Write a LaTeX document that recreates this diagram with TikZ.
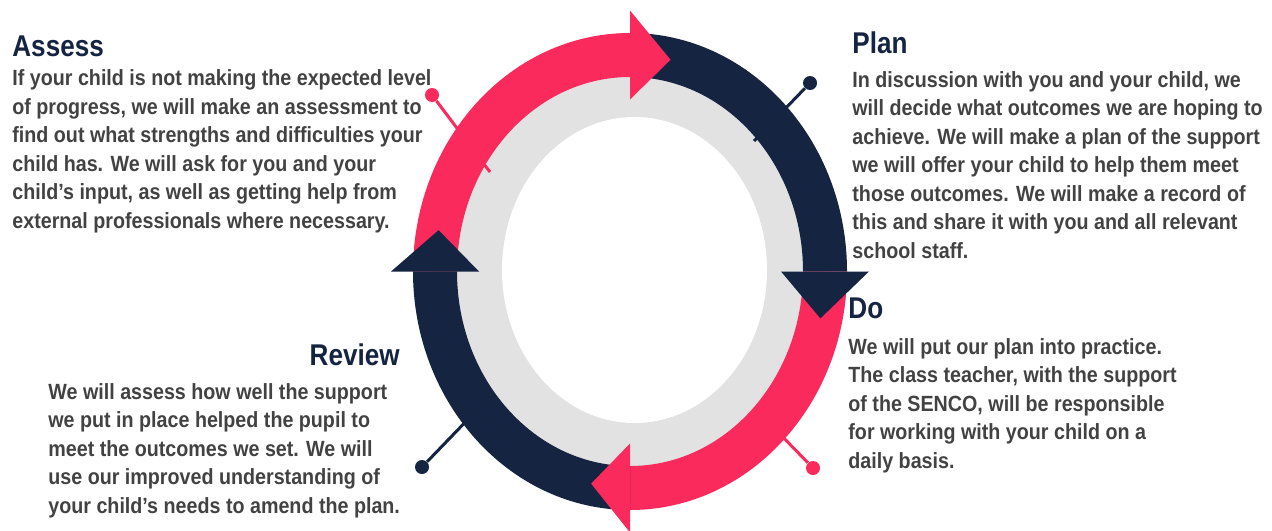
\documentclass[tikz,border=0pt]{standalone}
\usepackage{fontspec}
\setmainfont{Liberation Sans}
\newfontfamily\cyclefont[FakeStretch=0.87]{Liberation Sans}
\newfontfamily\blurbfont[FakeStretch=0.895]{Liberation Sans}

\definecolor{cyclepink}{RGB}{250,42,92}
\definecolor{cyclenavy}{RGB}{21,36,64}
\definecolor{ringgrey}{RGB}{226,226,226}
\definecolor{blurbgrey}{RGB}{66,66,66}

\tikzset{
  heading/.style={font={\cyclefont\bfseries\fontsize{15}{18}\selectfont}, text=cyclenavy, inner sep=0pt},
  blurb/.style={font={\blurbfont\bfseries\fontsize{11}{14.25}\selectfont}, text=blurbgrey, inner sep=0pt, align=left, anchor=base west},
  pinline/.style={line width=1.5pt},
  pindot/.style={circle, inner sep=0pt, minimum size=7pt},
}

\begin{document}
\begin{tikzpicture}[x=0.5pt, y=-0.5pt]
  \useasboundingbox (0,0) rectangle (1272,530);

  % pins behind the ring
  \node[pindot, fill=cyclepink] (assesspin) at (432,95) {};
  \node[pindot, fill=cyclenavy] (planpin) at (810,83) {};
  \node[pindot, fill=cyclepink] (dopin) at (813,468) {};
  \node[pindot, fill=cyclenavy] (reviewpin) at (422,467) {};
  \coordinate (assessend) at (490,172);
  \coordinate (planend) at (754,141);
  \coordinate (doend) at (776,430);
  \coordinate (reviewend) at (476,411);

  % grey ring and white middle
  \begin{scope}[shift={(630,271.5)}, yscale=-1]
    \fill[ringgrey] (0,0) ellipse[x radius=200, y radius=220];
    \fill[white] (4.5,1.5) ellipse[x radius=132.5, y radius=153];
  \end{scope}

  \draw[pinline, cyclepink] (assesspin) -- (assessend);
  \draw[pinline, cyclenavy] (planpin) -- (planend);
  \draw[pinline, cyclepink] (dopin) -- (doend);
  \draw[pinline, cyclenavy] (reviewpin) -- (reviewend);

  % the four arrows of the cycle
  \begin{scope}[shift={(630,271.5)}, yscale=-1]
    \foreach \col/\from/\to in {cyclepink/180/90, cyclenavy/90/0, cyclepink/0/-90, cyclenavy/270/180}
      \fill[\col] (\from:217 and 238.5) arc[start angle=\from, end angle=\to, x radius=217, y radius=238.5]
        -- (\to:173 and 194.5) arc[start angle=\to, end angle=\from, x radius=173, y radius=194.5] -- cycle;
    \foreach \col/\base/\tip in {cyclepink/90/78, cyclenavy/0/-12.5, cyclepink/-90/-101.5, cyclenavy/180/169}
      \fill[\col] (\base:239 and 261) -- (\tip:195 and 216.5) -- (\base:151 and 172) -- cycle;
  \end{scope}

  % Assess (blurbs sit on the baseline of their last line)
  \node[heading, anchor=base west] (assesshead) at (12,56) {Assess};
  \node[blurb] (assesstext) at (12,228) {If your child is not making the expected level\\
    of progress, we will make an assessment to\\
    find out what strengths and difficulties your\\
    child has. We will ask for you and your\\
    child’s input, as well as getting help from\\
    external professionals where necessary.};

  % Plan
  \node[heading, anchor=base west] (planhead) at (852,53) {Plan};
  \node[blurb] (plantext) at (852,258) {In discussion with you and your child, we\\
    will decide what outcomes we are hoping to\\
    achieve. We will make a plan of the support\\
    we will offer your child to help them meet\\
    those outcomes. We will make a record of\\
    this and share it with you and all relevant\\
    school staff.};

  % Do
  \node[heading, anchor=base west] (dohead) at (848,318) {Do};
  \node[blurb] (dotext) at (848,468) {We will put our plan into practice.\\
    The class teacher, with the support\\
    of the SENCO, will be responsible\\
    for working with your child on a\\
    daily basis.};

  % Review
  \node[heading, anchor=base east] (reviewhead) at (400,365) {Review};
  \node[blurb] (reviewtext) at (48,513) {We will assess how well the support\\
    we put in place helped the pupil to\\
    meet the outcomes we set. We will\\
    use our improved understanding of\\
    your child’s needs to amend the plan.};
\end{tikzpicture}
\end{document}
